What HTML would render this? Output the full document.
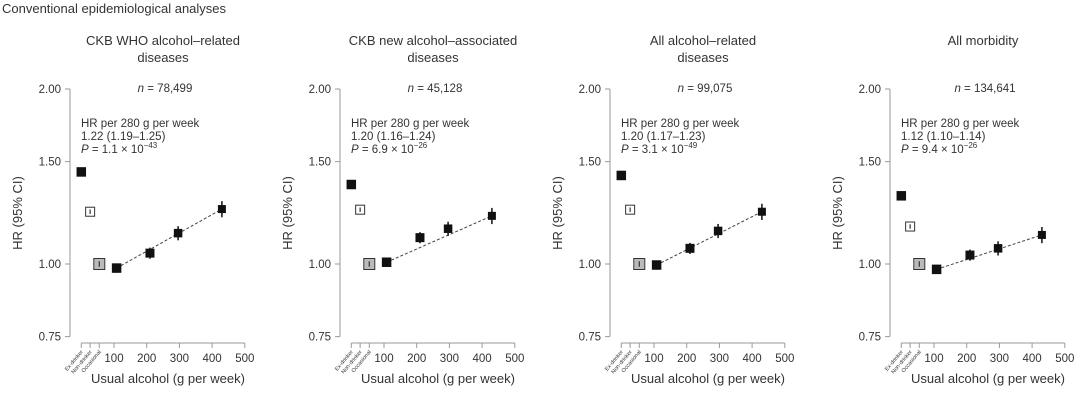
<!DOCTYPE html>
<html><head><meta charset="utf-8"><style>
body{margin:0;background:#fff;width:1080px;height:403px;overflow:hidden;font-family:"Liberation Sans",sans-serif}
svg text{font-family:"Liberation Sans",sans-serif;fill:#333}
</style></head><body>
<svg id="chart" width="1080" height="403" viewBox="0 0 1080 403" xmlns="http://www.w3.org/2000/svg">
<text x="2" y="13" font-size="13">Conventional epidemiological analyses</text>
</svg>
<script>
const panelTitles=[["CKB WHO alcohol\u2013related","diseases"],["CKB new alcohol\u2013associated","diseases"],["All alcohol\u2013related","diseases"],["All morbidity",""]];
const panelN=["78,499","45,128","99,075","134,641"];
const panelHR=["1.22 (1.19\u20131.25)","1.20 (1.16\u20131.24)","1.20 (1.17\u20131.23)","1.12 (1.10\u20131.14)"];
const panelPm=["1.1","6.9","3.1","9.4"];
const panelPe=["\u221243","\u221226","\u221249","\u221226"];
const exDrinker=[1.44,1.37,1.42,1.31];
const nonDrinker=[1.23,1.24,1.24,1.16];
const occasional=[1.00,1.00,1.00,1.00];
const drinkGrams=[108,210,296,430];
const drinkHR=[[0.984,1.044,1.13,1.243],[1.007,1.11,1.15,1.21],[0.996,1.064,1.14,1.23],[0.979,1.036,1.064,1.122]];
const ciHalf=[0.018,0.022,0.028,0.032];
const yTicks=[2.00,1.50,1.00,0.75];
const xTicks=[100,200,300,400,500];
const catLabels=["Ex-drinker","Non-drinker","Occasional"];
const catPos=[0,27,55];
const offsets=[0,270,540,820];
const svg=document.getElementById('chart');
const NS="http://www.w3.org/2000/svg";
function mk(tag,at,txt){const e=document.createElementNS(NS,tag);for(const k in at)e.setAttribute(k,at[k]);if(txt!==undefined)e.textContent=txt;svg.appendChild(e);return e;}
function yS(v){return 264-252.5*Math.log(v);}
offsets.forEach((o,p)=>{
  const xS=g=>o+81.3+g*0.327;
  const ax=o+70;
  let e;
  e=mk('text',{x:o+163,y:45,'font-size':13,'text-anchor':'middle'},panelTitles[p][0]);
  
  e=mk('text',{x:o+163,y:62,'font-size':13,'text-anchor':'middle'},panelTitles[p][1]);
  
  e=mk('text',{x:o+165,y:92,'font-size':11.5,'text-anchor':'middle'});
  e.innerHTML='<tspan font-style="italic">n</tspan> = '+panelN[p];
  
  e=mk('text',{x:o+81,y:127,'font-size':11.5},'HR per 280 g per week');
  
  e=mk('text',{x:o+81,y:140,'font-size':11.5},panelHR[p]);
  
  e=mk('text',{x:o+81,y:153,'font-size':11.5});
  e.innerHTML='<tspan font-style="italic">P</tspan> = '+panelPm[p]+' \u00d7 10<tspan dy="-5" font-size="8">'+panelPe[p]+'</tspan>';
  
  e=mk('line',{x1:ax,x2:ax,y1:yS(2),y2:yS(0.75),stroke:'#999','stroke-width':1});
  
  yTicks.forEach(t=>{
    e=mk('line',{x1:ax-5,x2:ax,y1:yS(t),y2:yS(t),stroke:'#999'});
    
    e=mk('text',{x:ax-9,y:yS(t)+4,'font-size':11.5,'text-anchor':'end'},t.toFixed(2));
    
  });
  e=mk('text',{x:0,y:0,'font-size':13,'text-anchor':'middle',transform:`translate(${o+22},213) rotate(-90)`},'HR (95% CI)');
  
  e=mk('line',{x1:xS(0),x2:xS(500),y1:343,y2:343,stroke:'#999'});
  
  catPos.concat(xTicks).forEach(g=>{
    e=mk('line',{x1:xS(g),x2:xS(g),y1:343,y2:348,stroke:'#999'});
    
  });
  xTicks.forEach(g=>{
    e=mk('text',{x:xS(g),y:362,'font-size':11.5,'text-anchor':'middle'},g);
    
  });
  catLabels.forEach((c,i)=>{
    e=mk('text',{x:0,y:0,'font-size':5.5,'text-anchor':'end',transform:`translate(${xS(catPos[i])+2},352) rotate(-50)`},c);
    
  });
  e=mk('text',{x:o+168,y:383,'font-size':13,'text-anchor':'middle'},'Usual alcohol (g per week)');
  
  const d=drinkHR[p];
  e=mk('line',{x1:xS(drinkGrams[0]),y1:yS(d[0]),x2:xS(drinkGrams[3]),y2:yS(d[3]),stroke:'#444','stroke-width':1,'stroke-dasharray':'3,2'});
  
  function pt(x,v,h,sz,fill,stroke,name){
    const eb=mk('line',{x1:x,x2:x,y1:yS(v*(1+h)),y2:yS(v*(1-h)),stroke:fill==='#fff'||fill==='#bbb'?'#333':'#111','stroke-width':1.5});
    
    const r=mk('rect',{x:x-sz/2,y:yS(v)-sz/2,width:sz,height:sz,fill:fill,stroke:stroke,'stroke-width':1});
    
    if(fill!=='#111'){const l=mk('line',{x1:x,x2:x,y1:yS(v)-sz/4,y2:yS(v)+sz/4,stroke:'#333','stroke-width':1.2});}
  }
  pt(xS(catPos[0]),exDrinker[p],0.015,8.5,'#111','#111','ex-drinker-point');
  pt(xS(catPos[1]),nonDrinker[p],0.012,9,'#fff','#333','non-drinker-point');
  pt(xS(catPos[2]),occasional[p],0.01,11,'#bbb','#333','occasional-point');
  d.forEach((v,i)=>{pt(xS(drinkGrams[i]),v,ciHalf[i],8.5-i*0.5,'#111','#111','drinker-point');});
});
</script>
</body></html>
